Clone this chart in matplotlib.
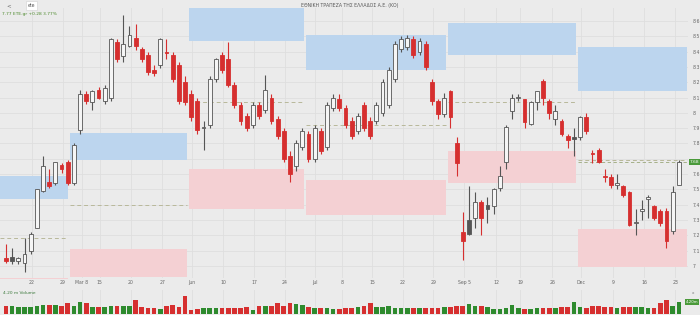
import numpy as np
import matplotlib.pyplot as plt

# daily candles (open, high, low, close)
opens = [7.05, 7.06, 7.03, 7.02, 7.10, 7.25, 7.49, 7.55, 7.54, 7.66,
         7.68, 7.54, 7.89, 8.12, 8.07, 8.15, 8.08, 8.10, 8.46, 8.37,
         8.44, 8.49, 8.42, 8.38, 8.28, 8.31, 8.40, 8.38, 8.31, 8.20,
         8.12, 8.08, 7.90, 7.92, 8.22, 8.38, 8.35, 8.18, 8.05, 7.98,
         7.92, 8.05, 8.02, 8.10, 7.96, 7.88, 7.72, 7.65, 7.78, 7.86,
         7.70, 7.88, 7.78, 8.03, 8.09, 8.03, 7.95, 7.88, 8.05, 7.95,
         7.95, 8.00, 8.05, 8.22, 8.42, 8.43, 8.48, 8.40, 8.45, 8.20,
         8.08, 7.99, 8.14, 7.80, 7.22, 7.30, 7.31, 7.42, 7.40, 7.39,
         7.51, 7.68, 8.01, 8.10, 8.09, 7.93, 8.07, 8.21, 8.08, 7.96,
         7.95, 7.85, 7.84, 7.84, 7.97, 7.74, 7.76, 7.59, 7.58, 7.53,
         7.52, 7.48, 7.28, 7.36, 7.44, 7.39, 7.36, 7.36, 7.23, 7.53]
highs = [7.14, 7.12, 7.06, 7.18, 7.22, 7.50, 7.72, 7.63, 7.68, 7.67,
         7.69, 7.80, 8.15, 8.14, 8.15, 8.17, 8.18, 8.49, 8.48, 8.64,
         8.57, 8.58, 8.43, 8.40, 8.31, 8.49, 8.48, 8.40, 8.33, 8.24,
         8.15, 8.10, 7.95, 8.24, 8.36, 8.40, 8.46, 8.20, 8.07, 8.00,
         8.07, 8.07, 8.25, 8.12, 7.98, 7.90, 7.75, 7.82, 7.90, 7.88,
         7.92, 7.90, 8.07, 8.12, 8.12, 8.05, 7.97, 8.00, 8.07, 7.97,
         8.07, 8.22, 8.30, 8.47, 8.50, 8.51, 8.50, 8.49, 8.47, 8.22,
         8.09, 8.13, 8.15, 7.84, 7.35, 7.52, 7.48, 7.43, 7.45, 7.51,
         7.65, 7.92, 8.12, 8.12, 8.09, 8.08, 8.14, 8.22, 8.09, 8.05,
         7.96, 7.86, 7.90, 7.98, 8.00, 7.76, 7.77, 7.63, 7.60, 7.60,
         7.53, 7.49, 7.37, 7.43, 7.46, 7.40, 7.37, 7.38, 7.52, 7.69]
lows = [7.02, 7.01, 7.01, 6.96, 7.08, 7.25, 7.48, 7.51, 7.53, 7.61,
        7.53, 7.53, 7.86, 8.06, 8.02, 8.09, 8.06, 8.08, 8.33, 8.33,
        8.43, 8.41, 8.33, 8.25, 8.24, 8.29, 8.35, 8.20, 8.06, 8.05,
        7.95, 7.86, 7.76, 7.90, 8.20, 8.26, 8.17, 8.03, 7.92, 7.88,
        7.90, 7.96, 8.00, 7.93, 7.83, 7.68, 7.55, 7.62, 7.76, 7.68,
        7.68, 7.73, 7.76, 8.01, 8.01, 7.90, 7.83, 7.86, 7.88, 7.83,
        7.93, 7.98, 8.03, 8.20, 8.40, 8.41, 8.36, 8.38, 8.28, 8.05,
        7.96, 7.97, 7.90, 7.59, 7.04, 7.20, 7.25, 7.20, 7.28, 7.34,
        7.49, 7.63, 7.96, 8.08, 7.90, 7.92, 8.02, 8.05, 7.96, 7.92,
        7.85, 7.77, 7.72, 7.82, 7.86, 7.67, 7.67, 7.55, 7.51, 7.50,
        7.45, 7.26, 7.20, 7.30, 7.31, 7.30, 7.26, 7.12, 7.21, 7.53]
closes = [7.03, 7.03, 7.05, 7.08, 7.21, 7.50, 7.65, 7.52, 7.68, 7.63,
          7.54, 7.79, 8.12, 8.08, 8.14, 8.10, 8.16, 8.48, 8.35, 8.45,
          8.51, 8.44, 8.35, 8.27, 8.26, 8.48, 8.39, 8.22, 8.08, 8.07,
          7.97, 7.89, 7.91, 8.22, 8.35, 8.28, 8.18, 8.05, 7.95, 7.90,
          8.05, 7.98, 8.15, 7.95, 7.85, 7.70, 7.60, 7.80, 7.88, 7.70,
          7.90, 7.75, 8.05, 8.10, 8.03, 7.92, 7.85, 7.98, 7.90, 7.85,
          8.05, 8.20, 8.28, 8.45, 8.48, 8.49, 8.38, 8.47, 8.30, 8.08,
          7.99, 8.10, 7.97, 7.67, 7.16, 7.21, 7.42, 7.31, 7.37, 7.50,
          7.59, 7.91, 8.10, 8.10, 7.94, 8.07, 8.14, 8.10, 8.00, 8.01,
          7.86, 7.82, 7.83, 7.97, 7.88, 7.73, 7.68, 7.58, 7.53, 7.54,
          7.46, 7.27, 7.29, 7.37, 7.45, 7.31, 7.28, 7.16, 7.48, 7.68]
close_before = 7.06  # close of the day before the first candle

# volume in millions
volumes = [2.9, 2.9, 2.6, 2.6, 2.6, 2.9, 3.1, 3.2, 3.2, 3.0,
           3.8, 2.9, 4.2, 4.0, 2.4, 2.4, 2.4, 3.0, 3.0, 2.8,
           2.8, 5.0, 2.4, 2.2, 2.2, 1.9, 2.8, 3.2, 2.6, 6.4,
           1.5, 1.7, 2.2, 2.2, 2.2, 2.2, 2.1, 2.3, 2.2, 2.6,
           1.5, 2.8, 3.0, 2.8, 3.9, 3.0, 3.9, 3.7, 3.1, 2.6,
           2.2, 2.2, 2.2, 1.9, 1.9, 2.2, 2.1, 2.4, 3.0, 4.0,
           2.6, 2.4, 2.8, 2.2, 2.1, 2.1, 2.2, 2.1, 2.1, 2.2,
           2.1, 2.4, 2.6, 2.9, 3.0, 3.7, 2.8, 3.0, 2.4, 1.7,
           1.9, 2.2, 3.2, 2.1, 1.8, 1.9, 2.1, 2.2, 2.2, 2.2,
           2.4, 2.4, 4.3, 2.4, 2.2, 2.8, 3.0, 2.4, 2.4, 2.2,
           2.6, 2.4, 2.4, 2.4, 2.1, 2.1, 3.8, 5.1, 2.8, 4.2]

# monthly bands: start, end, upper band (lo, hi), lower band (lo, hi), pivot
band_start = [-1.0, 10.3, 29.6, 48.6, 71.6, 92.7]
band_end = [10.1, 29.3, 48.2, 71.2, 92.4, 110.4]
blue_lo = [7.44, 7.69, 8.47, 8.28, 8.38, 8.14]
blue_hi = [7.59, 7.87, 8.69, 8.51, 8.59, 8.43]
pink_lo = [6.88, 6.93, 7.37, 7.33, 7.54, 6.99]
pink_hi = [6.92, 7.11, 7.63, 7.56, 7.75, 7.24]
pivot = [7.18, 7.40, 8.07, 7.92, 8.07, 7.69]

tick_pos = [4.2, 9.2, 12.3, 15.2, 20.2, 25.3, 30.1, 35.2, 40.2, 45.2, 50.1, 54.5,
            59.3, 64.3, 69.2, 74.2, 79.4, 83.3, 88.5, 93.2, 98.4, 103.4, 108.4]
tick_lab = ['22', '29', 'Mar 8', '15', '20', '27', 'Jun', '10', '17', '24', 'Jul', '8',
            '15', '22', '29', 'Sep 5', '12', '19', '26', 'Dec', '9', '16', '23']
price_ticks = [7.0, 7.1, 7.2, 7.3, 7.4, 7.5, 7.6, 7.7, 7.8, 7.9, 8.0,
               8.1, 8.2, 8.3, 8.4, 8.5, 8.6]

bg = '#ebebeb'
red = '#d62f2f'
dark = '#555555'
green = '#2e8b2e'

o = np.array(opens); h = np.array(highs); l = np.array(lows); c = np.array(closes)
x = np.arange(len(c))
prev = np.r_[close_before, c[:-1]]
down = c < prev
edge = np.where(down, red, dark)
hollow = c >= o
face = [('#f5f5f5' if hol else col) for hol, col in zip(hollow, edge)]

fig = plt.figure(figsize=(7, 3.15), dpi=100, facecolor=bg)
ax = fig.add_axes([0.0, 0.118, 0.983, 0.857], facecolor=bg)
axv = fig.add_axes([0.0, 0.003, 0.983, 0.076], facecolor=bg, sharex=ax)

for s, e, bl, bh, pl, ph, pv in zip(band_start, band_end, blue_lo, blue_hi,
                                    pink_lo, pink_hi, pivot):
    ax.fill_between([s, e], bl, bh, color='#bcd5ee', lw=0, zorder=1)
    ax.fill_between([s, e], pl, ph, color='#f4d0d3', lw=0, zorder=1)
    ax.plot([s, e], [pv, pv], ls=(0, (4, 3)), color='#b8b89a', lw=0.7, zorder=2)

ax.vlines(x, l, h, colors=edge, lw=0.8, zorder=3)
body = np.maximum(np.abs(c - o), 0.006)
ax.bar(x, body, bottom=np.minimum(o, c), width=0.62, color=face,
       edgecolor=edge, linewidth=0.6, zorder=4)

# last price line and label
ax.axhline(c[-1], color='#9aa77a', lw=0.6, ls=(0, (4, 3)), xmin=0.84, zorder=2)
ax.text(1.003, c[-1], '%.2f' % c[-1], transform=ax.get_yaxis_transform(),
        fontsize=3.2, color='white', va='center', ha='left',
        bbox=dict(boxstyle='square,pad=0.25', fc='#4a9a3a', ec='none'))

ax.set_xlim(-0.97, 110.5)
ax.set_ylim(6.922, 8.686)
ax.set_xticks(tick_pos)
ax.set_xticklabels(tick_lab)
ax.set_yticks(price_ticks)
# the last-price badge covers the tick label next to it
ax.set_yticklabels(['' if abs(p - c[-1]) < 0.05 else '%g' % p for p in price_ticks])
ax.yaxis.tick_right()
ax.tick_params(axis='y', length=0, labelsize=3.3, labelcolor='#666666', pad=3)
ax.tick_params(axis='x', length=0, labelsize=3.3, labelcolor='#666666', pad=1.5)
ax.grid(True, color='#dedede', lw=0.6)
ax.set_axisbelow(True)
for sp in ax.spines.values():
    sp.set_visible(False)

vcol = np.where(down, red, green)
axv.bar(x, volumes, width=0.75, color=vcol, lw=0)
axv.set_ylim(0, 8.4)
axv.set_yticks([])
axv.tick_params(axis='x', length=0, labelbottom=False)
axv.grid(True, axis='x', color='#dedede', lw=0.6)
axv.set_axisbelow(True)
for sp in axv.spines.values():
    sp.set_visible(False)
axv.text(0.004, 0.95, '4.20 m Volume', transform=axv.transAxes, fontsize=3.2,
         color='#3d7a3d', va='top')
axv.text(0.996, volumes[-1], '4.20m', transform=axv.get_yaxis_transform(),
         fontsize=2.8, color='white', va='center', ha='left',
         bbox=dict(boxstyle='square,pad=0.2', fc='#4a9a3a', ec='none'))
axv.text(1.008, 0.95, 'x', transform=axv.transAxes, fontsize=3,
         color='#777777', va='top', ha='center')

# header
fig.text(0.009, 0.982, '<', fontsize=4, color='#666666', va='center')
fig.text(0.04, 0.982, 'ete', fontsize=3.3, color='#555555', va='center',
         bbox=dict(boxstyle='square,pad=0.4', fc='white', ec='#d0d0d0', lw=0.4))
fig.text(0.5, 0.982, 'ΕΘΝΙΚΗ ΤΡΑΠΕΖΑ ΤΗΣ ΕΛΛΑΔΟΣ Α.Ε. (ΚΟ)', fontsize=3.3,
         color='#555555', va='center', ha='center')
fig.text(0.003, 0.955, '7.77 ETE.gr +0.28 3.77%', fontsize=3.2,
         color='#4d8a2d', va='center')

fig.savefig('out.png', dpi=100, facecolor=bg)
